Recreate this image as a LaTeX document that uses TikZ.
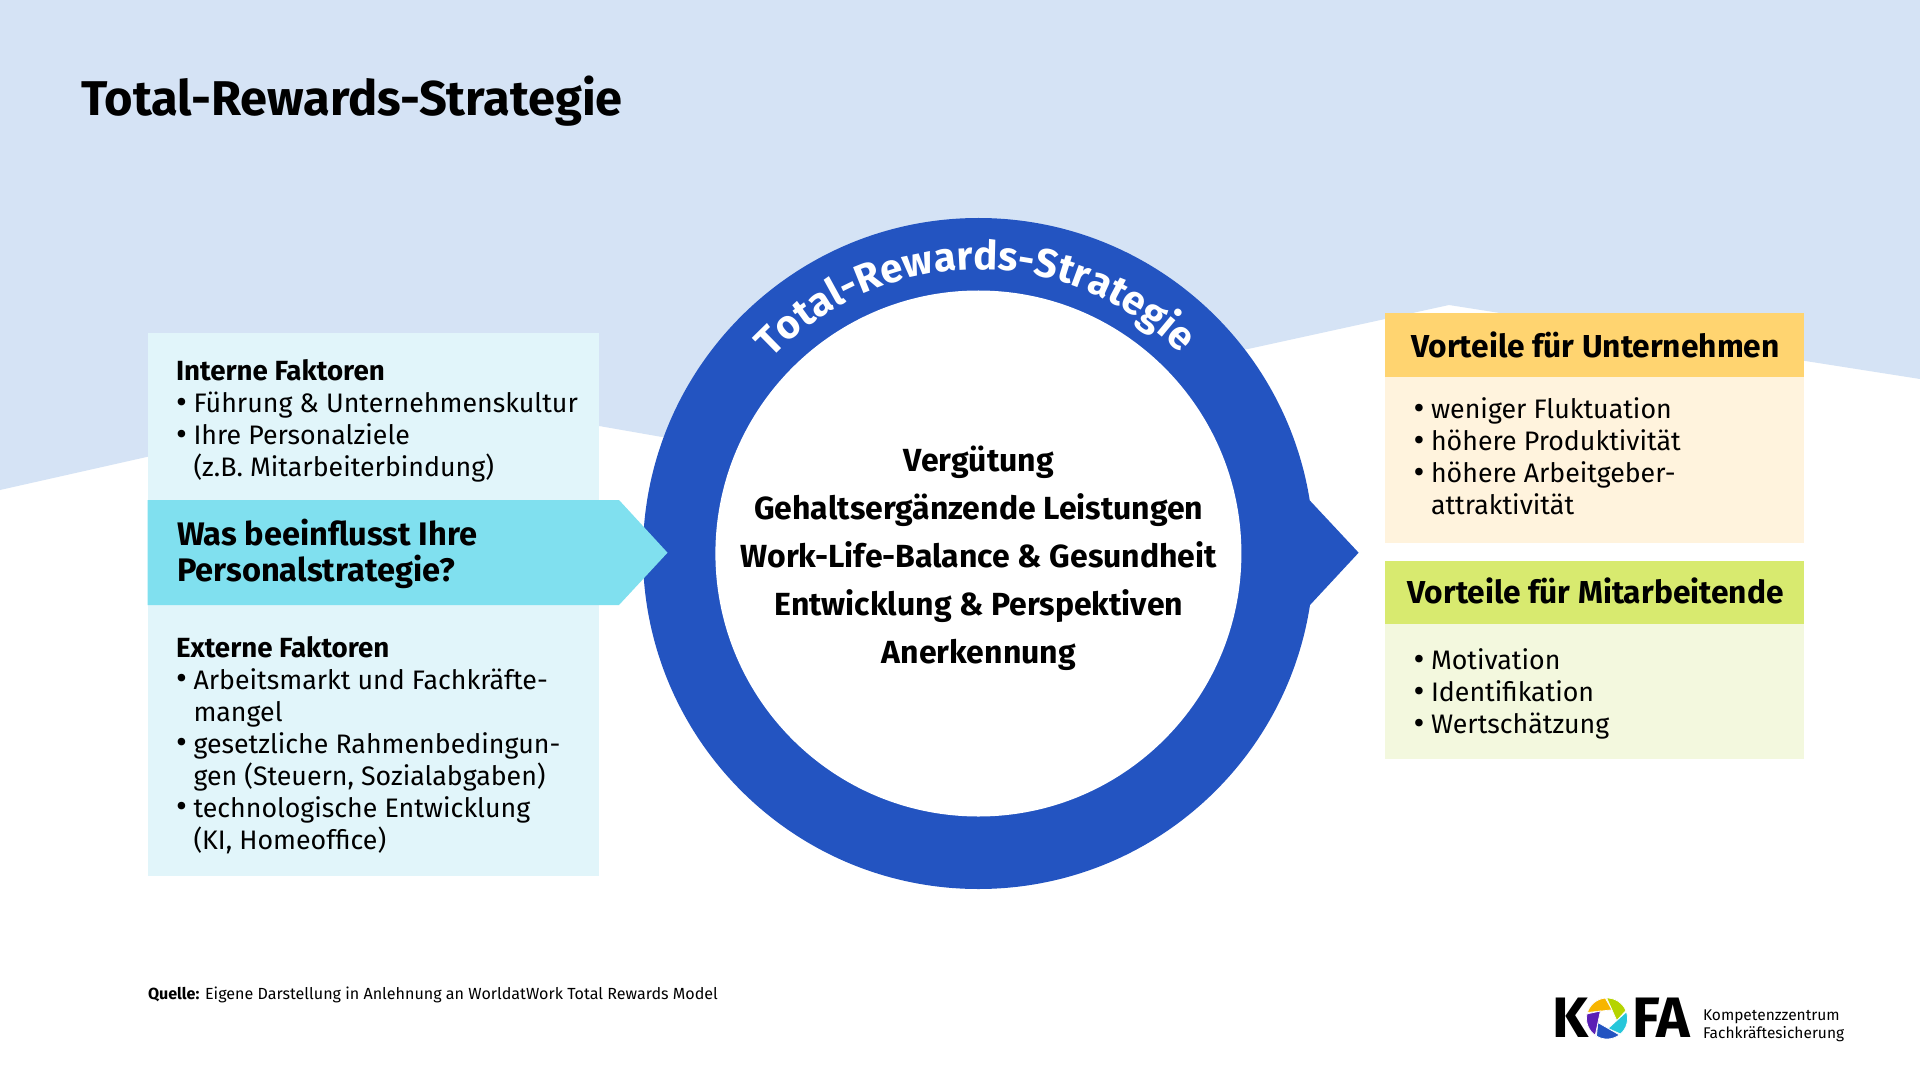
\documentclass[tikz,border=0pt]{standalone}
\usepackage{fontspec}
\usepackage{graphicx}
\usetikzlibrary{decorations.text}
\setmainfont{Fira Sans}
\definecolor{bgblue}{HTML}{D5E3F5}
\definecolor{ringblue}{HTML}{2354C1}
\definecolor{paleteal}{HTML}{E1F5FA}
\definecolor{teal}{HTML}{80E0EF}
\definecolor{yelhead}{HTML}{FFD470}
\definecolor{yelbody}{HTML}{FFF3DD}
\definecolor{grnhead}{HTML}{D8EA6F}
\definecolor{grnbody}{HTML}{F3F8DE}
\newcommand{\px}[2]{\fontsize{#1pt}{#2pt}\selectfont}
\newcommand{\bul}[1]{\hbox{\makebox[8.75pt][l]{\raisebox{-0.3pt}{\scalebox{1.25}{•}}}#1}}
\newcommand{\con}[1]{\hbox{\hspace{8.75pt}#1}}
\tikzset{
  x=0.5pt,y=-0.5pt,
  txt/.style={anchor=base west,inner sep=0pt,outer sep=0pt},
  body/.style={txt,font=\px{13.38}{16}},
  head/.style={txt,font=\px{13.85}{16}\bfseries},
  big/.style={anchor=base,inner sep=0pt,outer sep=0pt,font=\px{16}{18}\bfseries},
  bighead/.style={big,font=\px{15.87}{18}\bfseries},
}
\begin{document}
\begin{tikzpicture}
\useasboundingbox (0,0) rectangle (1920,1080);
\fill[white] (0,0) rectangle (1920,1080);
\fill[bgblue] (0,0) -- (1920,0) -- (1920,379) -- (1449,305) -- (1248,349) -- (978,400) -- (662,437) -- (422,395) -- (0,490) -- cycle;
% ring
\coordinate (c) at (978.4,553.5);
\fill[ringblue] (1310,500.7) -- (1358.6,552.7) -- (1310,605) -- cycle;
\fill[ringblue] (c) circle[radius=335.5];
\fill[white] (c) circle[radius=263];
% boxes
\fill[paleteal] (147.5,333) rectangle (599,876);
\fill[teal] (147.5,500) -- (619,500) -- (667.5,552.7) -- (619,605) -- (147.5,605) -- cycle;
\fill[yelbody] (1385.4,376) rectangle (1804.4,542.7);
\fill[yelhead] (1385.4,313) rectangle (1804.4,376.7);
\fill[grnbody] (1385.4,624) rectangle (1804.4,759);
\fill[grnhead] (1385.4,560.7) rectangle (1804.4,624);
% curved label
\path[decorate,decoration={text along path,text align=center,
   text={|\px{20.1}{24}\bfseries\color{white}|Total-Rewards-Strategie}}]
   ([shift={(199.3:284)}]c) arc[start angle=199.3,end angle=339.3,radius=284];
% title
\node[txt,font=\px{24.4}{28}\bfseries] (title) at (81,116) {Total-Rewards-Strategie};
% left
\node[head] (ih) at (176,380) {Interne Faktoren};
\node[body] (il) at (176,412.5) {\vtop{\bul{Führung \& Unternehmenskultur}\bul{Ihre Personalziele}\con{(z.B. Mitarbeiterbindung)}}};
\node[txt,font=\px{16.3}{18}\bfseries] (q) at (177,545) {\vtop{\hbox{Was beeinflusst Ihre}\hbox{Personalstrategie?}}};
\node[head] (eh) at (176,657) {Externe Faktoren};
\node[body] (el) at (176,689) {\vtop{\bul{Arbeitsmarkt und Fachkräfte-}\con{mangel}\bul{gesetzliche Rahmenbedingun-}\con{gen (Steuern, Sozialabgaben)}\bul{technologische Entwicklung}\con{(KI, Homeoffice)}}};
% centre
\node[big] (v1) at (978.8,471) {Vergütung};
\node[big] (v2) at (978.8,519) {Gehaltsergänzende Leistungen};
\node[big] (v3) at (978.8,567) {Work-Life-Balance \& Gesundheit};
\node[big] (v4) at (978.8,615) {Entwicklung \& Perspektiven};
\node[big] (v5) at (978.8,663) {Anerkennung};
% right
\node[bighead] (rh1) at (1595.5,357.7) {Vorteile für Unternehmen};
\node[body] (rl1) at (1413.5,418.5) {\vtop{\bul{weniger Fluktuation}\bul{höhere Produktivität}\bul{höhere Arbeitgeber-}\con{attraktivität}}};
\node[bighead] (rh2) at (1595.5,603.5) {Vorteile für Mitarbeitende};
\node[body] (rl2) at (1413.5,669.5) {\vtop{\bul{Motivation}\bul{Identifikation}\bul{Wertschätzung}}};
% source
\node[txt,font=\px{8.05}{10}] (src) at (148,999) {\textbf{Quelle:} Eigene Darstellung in Anlehnung an WorldatWork Total Rewards Model};
% logo
\node[txt,font=\px{28.5}{30}\bfseries] (lk) at (1552,1037.7) {K};
\node[txt,font=\px{28.5}{30}\bfseries] (lf) at (1632,1037.7) {FA};
\coordinate (lc) at (1607,1018.5);
\foreach \a/\col in {197/F7B500,269/B5D400,341/26C6DA,53/2354C1,125/5B1FB5}{
  \definecolor{bc}{HTML}{\col}
  \fill[bc,draw=white,line width=0.35pt] ([shift={(\a:20.5)}]lc) arc[start angle=\a,end angle=\a+68,radius=20.5] -- ([shift={(\a+103:10)}]lc) -- cycle;
}
\node[txt,font=\px{7.75}{9}] (lt1) at (1703,1020.7) {Kompetenzzentrum};
\node[txt,font=\px{7.75}{9}] (lt2) at (1703,1038) {Fachkräftesicherung};
\end{tikzpicture}
\end{document}
